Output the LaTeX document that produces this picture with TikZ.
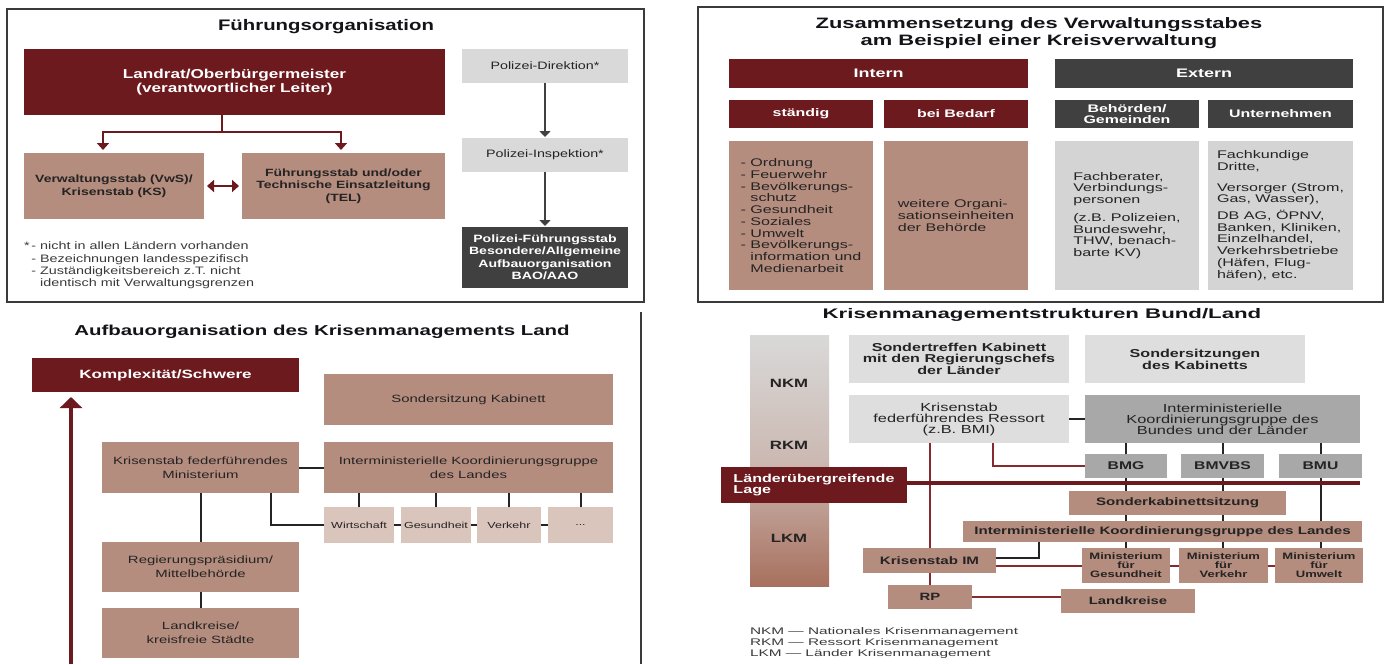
\documentclass[tikz,border=0pt]{standalone}
\usepackage{fontspec}
\setmainfont{Liberation Sans}
\newfontfamily\fA{Liberation Sans}[FakeStretch=1.33]
\newfontfamily\fB{Liberation Sans}[FakeStretch=1.45]
\newfontfamily\fC{Liberation Sans}[FakeStretch=1.42]
\newfontfamily\fD{Liberation Sans}[FakeStretch=1.4]
\newfontfamily\fDt{Liberation Sans}[FakeStretch=1.6]
\usetikzlibrary{arrows.meta}
\definecolor{dred}{HTML}{6C1A1E}
\definecolor{brn}{HTML}{B48D7E}
\definecolor{pnk}{HTML}{D9C5BB}
\definecolor{lgr}{HTML}{D9D9D9}
\definecolor{lgrB}{HTML}{D4D4D4}
\definecolor{lgrD}{HTML}{DEDEDE}
\definecolor{mgr}{HTML}{A8A8A8}
\definecolor{dgr}{HTML}{404040}
\definecolor{txt}{HTML}{252323}
\definecolor{ttlc}{HTML}{141418}
\definecolor{frm}{HTML}{3A3A3A}
\definecolor{rline}{HTML}{852A2F}
\definecolor{ftc}{HTML}{3A3A3A}
\definecolor{gDa}{HTML}{D9D9D9}
\definecolor{gDb}{HTML}{CBB9B2}
\definecolor{gDc}{HTML}{A8705E}
\newcommand\fz[2]{\fontsize{#1}{#2}\selectfont}
\begin{document}
\begin{tikzpicture}[x=1pt,y=-1pt,
  bx/.style={draw=none,inner sep=0pt,outer sep=0pt,align=center,text=txt},
  sz/.style 2 args={minimum width=#1pt,minimum height=#2pt},
  ttl/.style={bx,text=ttlc},
  redbox/.style={bx,fill=dred,text=white},
  brbox/.style={bx,fill=brn},
  pkbox/.style={bx,fill=pnk},
  lgbox/.style={bx,fill=lgr},
  lgboxB/.style={bx,fill=lgrB},
  lgboxD/.style={bx,fill=lgrD},
  mgbox/.style={bx,fill=mgr},
  dgbox/.style={bx,fill=dgr,text=white},
  framestyle/.style={draw=frm,line width=1.6pt},
  lnA/.style={draw=dred,line width=2.2pt},
  arA/.style={lnA,-{Triangle[width=12pt,length=7pt]},shorten >=3pt},
  arAA/.style={lnA,{Triangle[width=12pt,length=7pt]}-{Triangle[width=12pt,length=7pt]},shorten >=3pt,shorten <=3pt},
  arG/.style={draw=dgr,line width=1.9pt,-{Triangle[width=11pt,length=6pt]},shorten >=1pt},
  lnC/.style={draw=txt,line width=2pt},
  arrC/.style={draw=dred,line width=3.5pt,-{Triangle[width=22pt,length=11pt]},shorten >=5pt},
  dkl/.style={draw=txt,line width=2pt},
  rl/.style={draw=rline,line width=2pt},
  thr/.style={draw=dred,line width=3.8pt}
]
\useasboundingbox (0,0) rectangle (1386,664);
\fill[white] (0,0) rectangle (1386,664);

% ---------------- Panel A ----------------
\draw[framestyle] (7,9) rectangle (644,302);
\node[ttl,font=\fA\bfseries\fz{15.3}{18}] (tA) at (326,27) {Führungsorganisation};
\node[redbox,sz={421}{66},font=\fA\bfseries\fz{12.9}{13.5}] (landrat) at (234.5,82) {Landrat/Oberbürgermeister\\(verantwortlicher Leiter)};
\node[brbox,sz={180}{66},font=\fA\bfseries\fz{10.5}{12.7}] (vws) at (114,186) {Verwaltungsstab (VwS)/\\Krisenstab (KS)};
\node[brbox,sz={203}{66},font=\fA\bfseries\fz{10.5}{12.7}] (fst) at (343.5,186) {Führungsstab und/oder\\Technische Einsatzleitung\\(TEL)};
\coordinate (jA) at (222,132);
\draw[lnA] ([xshift=-12.5pt]landrat.south) -- (jA);
\draw[arA] (jA) -| ([xshift=-11pt]vws.north);
\draw[arA] (jA) -| ([xshift=-2.5pt]fst.north);
\draw[arAA] (vws) -- (fst);
\node[bx,anchor=north west,align=left,text=ftc,font=\fA\fz{10.8}{12.3}] (fnA) at (24,242) {*\,- nicht in allen Ländern vorhanden\\\hphantom{*\,}- Bezeichnungen landesspezifisch\\\hphantom{*\,}- Zuständigkeitsbereich z.T. nicht\\\hphantom{*\,- }identisch mit Verwaltungsgrenzen};
\node[lgbox,sz={166}{34},font=\fA\fz{10.75}{13}] (polD) at (545,66) {Polizei-Direktion*};
\node[lgbox,sz={166}{34},font=\fA\fz{10.75}{13}] (polI) at (545,155) {Polizei-Inspektion*};
\node[dgbox,sz={166}{61},font=\fA\bfseries\fz{10.6}{12.5}] (polF) at (545,257.5) {Polizei-Führungsstab\\Besondere/Allgemeine\\Aufbauorganisation\\BAO/AAO};
\draw[arG] (polD) -- (polI);
\draw[arG] (polI) -- (polF);

% ---------------- Panel B ----------------
\draw[framestyle] (698,7) rectangle (1383,302);
\node[ttl,font=\fB\bfseries\fz{15.1}{16.5}] (tB) at (1039,33) {Zusammensetzung des Verwaltungsstabes\\am Beispiel einer Kreisverwaltung};
\node[redbox,sz={299}{29},font=\fB\bfseries\fz{12.4}{13}] (intern) at (878.5,73.5) {Intern};
\node[dgbox,sz={298}{29},font=\fB\bfseries\fz{12.4}{13}] (extern) at (1204,73.5) {Extern};
\node[redbox,sz={144}{28},font=\fB\bfseries\fz{11}{11.5}] (staendig) at (801,114) {ständig};
\node[redbox,sz={144}{28},font=\fB\bfseries\fz{11}{11.5}] (bedarf) at (956,114) {bei Bedarf};
\node[dgbox,sz={144}{28},font=\fB\bfseries\fz{11}{11.5}] (behoerden) at (1127,114) {Behörden/\\Gemeinden};
\node[dgbox,sz={145}{28},font=\fB\bfseries\fz{11}{11.5}] (untern) at (1280.5,114) {Unternehmen};
\node[brbox,sz={144}{149},align=left,font=\fB\fz{11.1}{11.7}] (l1) at (801,215.5) {- Ordnung\\- Feuerwehr\\- Bevölkerungs-\\\hphantom{- }schutz\\- Gesundheit\\- Soziales\\- Umwelt\\- Bevölkerungs-\\\hphantom{- }information und\\\hphantom{- }Medienarbeit};
\node[brbox,sz={144}{149},align=left,font=\fB\fz{11.1}{11.7}] (l2) at (956,215.5) {weitere Organi-\\sationseinheiten\\der Behörde};
\node[lgboxB,sz={144}{149},align=left,font=\fB\fz{11.1}{11.7}] (l3) at (1127,215.5) {Fachberater,\\Verbindungs-\\personen\\[6pt](z.B. Polizeien,\\Bundeswehr,\\THW, benach-\\barte KV)};
\node[lgboxB,sz={145}{149},align=left,font=\fB\fz{11.1}{11.7}] (l4) at (1280.5,215.5) {Fachkundige\\Dritte,\\[9pt]Versorger (Strom,\\Gas, Wasser),\\[5pt]DB AG, ÖPNV,\\Banken, Kliniken,\\Einzelhandel,\\Verkehrsbetriebe\\(Häfen, Flug-\\häfen), etc.};

% ---------------- Panel C ----------------
\draw[framestyle] (641,312) -- (641,664);
\node[ttl,font=\fC\bfseries\fz{14.4}{17}] (tC) at (322,332) {Aufbauorganisation des Krisenmanagements Land};
\node[redbox,sz={267}{34},font=\fC\bfseries\fz{12}{14}] (komplex) at (165.5,375) {Komplexität/Schwere};
\coordinate (arC) at (71,664);
\draw[arrC] (arC) -- (arC |- komplex.south);
\node[brbox,sz={197}{51},font=\fC\fz{10.5}{14}] (ksfm) at (200.5,467.5) {Krisenstab federführendes\\Ministerium};
\node[brbox,sz={197}{50},font=\fC\fz{10.5}{14}] (rpC) at (200.5,567) {Regierungspräsidium/\\Mittelbehörde};
\node[brbox,sz={197}{50},font=\fC\fz{10.5}{14}] (lkC) at (200.5,633) {Landkreise/\\kreisfreie Städte};
\node[brbox,sz={289}{51},font=\fC\fz{10.5}{14}] (skC) at (468.5,399.5) {Sondersitzung Kabinett};
\node[brbox,sz={289}{51},font=\fC\fz{10.5}{14}] (imkC) at (468.5,467.5) {Interministerielle Koordinierungsgruppe\\des Landes};
\node[pkbox,sz={70}{36},font=\fC\fz{8.8}{10}] (wirt) at (359,525) {Wirtschaft};
\node[pkbox,sz={70}{36},font=\fC\fz{8.8}{10}] (gesC) at (436,525) {Gesundheit};
\node[pkbox,sz={64}{36},font=\fC\fz{8.8}{10}] (verkC) at (509,525) {Verkehr};
\node[pkbox,sz={65}{36},font=\fC\fz{8.8}{10}] (dotsC) at (580.5,525) {...};
\draw[lnC] (ksfm.south) -- (rpC.north);
\draw[lnC] (rpC.south) -- (lkC.north);
\draw[lnC] (ksfm.east) -- (imkC.west);
\draw[lnC] ([xshift=70.5pt]ksfm.south) |- (wirt.west);
\draw[lnC] (wirt.east) -- (gesC.west);
\draw[lnC] (gesC.east) -- (verkC.west);
\draw[lnC] (verkC.east) -- (dotsC.west);
\foreach \n in {wirt,gesC,verkC,dotsC} \draw[lnC] (\n.north) -- (\n.north |- imkC.south);

% ---------------- Panel D ----------------
\node[ttl,font=\fDt\bfseries\fz{13.9}{16}] (tD) at (1042,315) {Krisenmanagementstrukturen Bund/Land};
\node[bx,sz={79}{251},top color=gDa,bottom color=gDc,middle color=gDb] (col) at (789.5,460.5) {};
\node[bx,font=\fD\bfseries\fz{12}{12}] (nkm) at (789,383) {NKM};
\node[bx,font=\fD\bfseries\fz{12}{12}] (rkm) at (789,445) {RKM};
\node[bx,font=\fD\bfseries\fz{12}{12}] (lkm) at (789,538) {LKM};
\node[lgboxD,sz={220}{48},font=\fD\bfseries\fz{11.5}{10.7}] (stk) at (959,359) {Sondertreffen Kabinett\\mit den Regierungschefs\\der Länder};
\node[lgboxD,sz={220}{48},font=\fD\bfseries\fz{11.5}{10.7}] (ssk) at (1195,359) {Sondersitzungen\\des Kabinetts};
\node[lgboxD,sz={220}{48},font=\fD\fz{11.7}{11}] (ksr) at (959,419) {Krisenstab\\federführendes Ressort\\(z.B. BMI)};
\node[mgbox,sz={275}{48},font=\fD\fz{11.7}{11}] (imkB) at (1222.5,419) {Interministerielle\\Koordinierungsgruppe des\\Bundes und der Länder};
\node[mgbox,sz={82}{24},font=\fD\bfseries\fz{11.2}{11}] (bmg) at (1126,466) {BMG};
\node[mgbox,sz={83}{24},font=\fD\bfseries\fz{11.2}{11}] (bmvbs) at (1222.5,466) {BMVBS};
\node[mgbox,sz={83}{24},font=\fD\bfseries\fz{11.2}{11}] (bmu) at (1320.5,466) {BMU};
\node[brbox,sz={217}{24},font=\fD\bfseries\fz{10.8}{10}] (skab) at (1177.5,503) {Sonderkabinettsitzung};
\node[brbox,sz={399}{21},font=\fD\bfseries\fz{10.8}{10}] (imkL) at (1162.5,531.5) {Interministerielle Koordinierungsgruppe des Landes};
\node[brbox,sz={133}{25},font=\fD\bfseries\fz{10.8}{10}] (ksim) at (929.5,560.5) {Krisenstab IM};
\node[brbox,sz={88}{35},font=\fD\bfseries\fz{9.3}{9}] (minG) at (1126,565.5) {Ministerium\\für\\Gesundheit};
\node[brbox,sz={89}{35},font=\fD\bfseries\fz{9.3}{9}] (minV) at (1223.5,565.5) {Ministerium\\für\\Verkehr};
\node[brbox,sz={88}{35},font=\fD\bfseries\fz{9.3}{9}] (minU) at (1319,565.5) {Ministerium\\für\\Umwelt};
\node[brbox,sz={84}{24},font=\fD\bfseries\fz{10.6}{10}] (rpD) at (930,597) {RP};
\node[brbox,sz={134}{24},font=\fD\bfseries\fz{10.6}{10}] (lkD) at (1128,601) {Landkreise};
\node[bx,anchor=west,align=left,text=ftc,font=\fDt\fz{9.6}{11}] (leg) at (750,643) {NKM — Nationales Krisenmanagement\\RKM — Ressort Krisenmanagement\\LKM — Länder Krisenmanagement};
% connectors D
\draw[dkl] (ksr.east) -- (imkB.west);
\foreach \n in {bmg,bmvbs,bmu} \draw[dkl] (\n.north) -- (\n.north |- imkB.south);
\foreach \n/\m in {bmg/minG,bmvbs/minV} {
  \draw[dkl] (\n.south) -- (\n.south |- skab.north);
  \draw[dkl] (\n.south |- skab.south) -- (\n.south |- imkL.north);
  \draw[dkl] (\n.south |- imkL.south) -- (\n.south |- \m.north);
}
\draw[dkl] (bmu.south) -- (bmu.south |- imkL.north);
\draw[dkl] (bmu.south |- imkL.south) -- (bmu.south |- minU.north);
\draw[rl] ([xshift=34pt]ksr.south) |- (bmg.west);
\draw[rl] (ksim.north) -- (ksim.north |- ksr.south);
\draw[rl] (ksim.south) -- (ksim.south |- rpD.north);
\draw[dkl] ([xshift=-123.5pt]imkL.south) |- ([yshift=2.5pt]ksim.east);
\draw[rl] (minG.west) -- (minG.west -| ksim.east);
\draw[rl] (minG.east) -- (minV.west);
\draw[rl] (minV.east) -- (minU.west);
\draw[rl] (rpD.east) -- (rpD.east -| lkD.west);
\node[redbox,sz={186}{36},align=left,font=\fD\bfseries\fz{11.5}{11}] (lage) at (814,485) {Länderübergreifende\\Lage};
\coordinate (thE) at (1360,483);
\draw[thr] (lage.east |- thE) -- (thE);
\end{tikzpicture}
\end{document}
